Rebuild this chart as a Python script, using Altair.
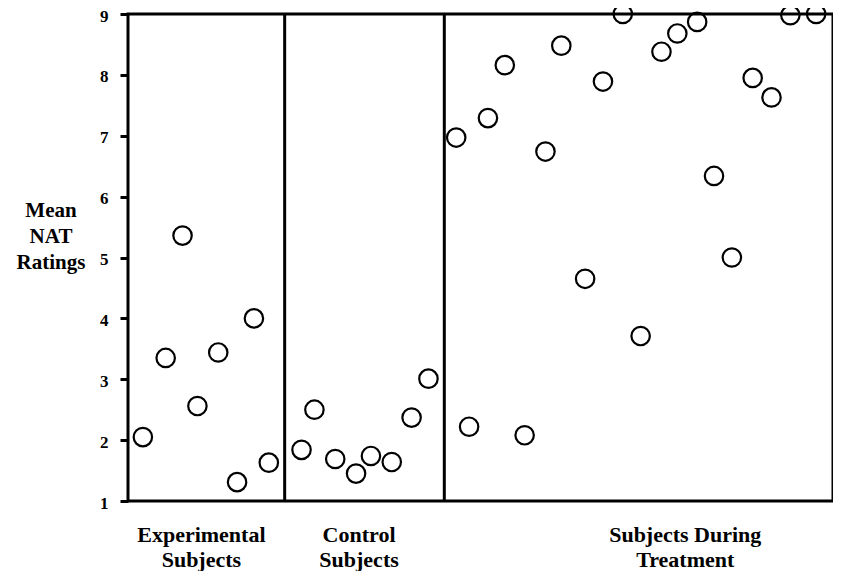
import altair as alt
import pandas as pd

# Positions along the horizontal axis (arbitrary subject-order units) and mean ratings
exp_x = [15, 38, 55, 70, 91, 110, 127, 142]
exp_y = [2.05, 3.35, 5.36, 2.56, 3.44, 1.31, 4.00, 1.63]
ctl_x = [175, 188, 209, 230, 245, 266, 286, 303]
ctl_y = [1.84, 2.50, 1.69, 1.45, 1.74, 1.64, 2.37, 3.01]
trt_x = [331, 344, 363, 380, 400, 421, 437, 461, 479, 499,
         517, 538, 554, 574, 591, 609, 630, 649, 668, 694]
trt_y = [6.97, 2.22, 7.29, 8.16, 2.08, 6.74, 8.48, 4.65, 7.89, 9.00,
         3.71, 8.38, 8.68, 8.87, 6.34, 5.00, 7.95, 7.63, 8.98, 9.00]

dividers = [158, 319]
group_labels = ["Experimental|Subjects", "Control|Subjects", "Subjects During|Treatment"]
group_centers = [74, 233, 562]
y_ticks = [1, 2, 3, 4, 5, 6, 7, 8, 9]
y_title = ["Mean|NAT|Ratings"]

pts = pd.DataFrame({
    "pos": exp_x + ctl_x + trt_x,
    "rating": exp_y + ctl_y + trt_y,
})
div_df = pd.DataFrame({"pos": dividers})
lab_df = pd.DataFrame({"pos": group_centers, "label": group_labels})
ttl_df = pd.DataFrame({"label": y_title})

FONT = "Liberation Serif"

xscale = alt.Scale(domain=[0, 711], nice=False, zero=False)
yscale = alt.Scale(domain=[1, 9], nice=False, zero=False)

points = alt.Chart(pts).mark_point(
    shape="circle", filled=False, stroke="black", strokeWidth=2.2, size=340, opacity=1
).encode(
    x=alt.X("pos:Q", scale=xscale, axis=None),
    y=alt.Y(
        "rating:Q", scale=yscale, title=None,
        axis=alt.Axis(
            values=y_ticks, grid=False, domain=False,
            tickSize=8, tickWidth=3, tickColor="black",
            labelFont=FONT, labelFontWeight="bold", labelFontSize=17,
            labelColor="black", labelPadding=12, labelOffset=2,
        ),
    ),
)

rules = alt.Chart(div_df).mark_rule(color="black", strokeWidth=3).encode(
    x=alt.X("pos:Q", scale=xscale, axis=None)
)

labels = alt.Chart(lab_df).mark_text(
    font=FONT, fontWeight="bold", fontSize=22, lineBreak="|",
    baseline="alphabetic", align="center", lineHeight=25, color="black",
).encode(
    x=alt.X("pos:Q", scale=xscale, axis=None),
    y=alt.value(528),
    text="label:N",
)

ytitle = alt.Chart(ttl_df).mark_text(
    font=FONT, fontWeight="bold", fontSize=21, lineBreak="|",
    baseline="alphabetic", align="center", lineHeight=26, color="black",
).encode(
    x=alt.value(-77),
    y=alt.value(203),
    text="label:N",
)

chart = alt.layer(rules, points, labels, ytitle).properties(
    width=705, height=487,
    autosize=alt.AutoSizeParams(type="none"),
    padding={"left": 120, "top": 6, "right": 0, "bottom": 70},
    background="white",
).configure_view(stroke="black", strokeWidth=3)

chart.save("out.html", embed_options={"renderer": "svg", "actions": False})
